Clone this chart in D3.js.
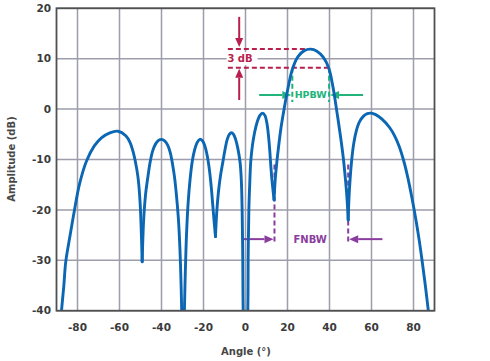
<!DOCTYPE html>
<html>
<head>
<meta charset="utf-8">
<script src="https://cdn.jsdelivr.net/npm/d3@7"></script>
<style>
body { margin: 0; background: #fff; }
text { font-family: "DejaVu Sans", sans-serif; font-weight: bold; }
</style>
</head>
<body>
<svg width="490" height="361"></svg>
<script>
// beam pattern: angle (deg) / amplitude (dB)
var angle = [
    -88.5, -87.6, -86.5, -85.6, -83.5, -81.6, -79, -75.7, -72, -68.6, -64.6, -60.7, -57, -55, -53.5, -52.5, -51.2, -50.2, -49.2,
    -48.5, -47.6, -46.5, -45.4, -44.2, -42.8, -41.4, -40, -38.5, -37, -35.8, -34.8, -33.8, -32.9, -32, -31.2, -30.6, -30.2, -29.7,
    -29.2, -28.7, -28.1, -27.3, -26.4, -25.4, -24.3, -23.1, -21.8, -20.5, -19.3, -18.2, -17.2, -16.3, -15.5, -14.9, -14.3,
    -13.7, -12.9, -11.9, -10.7, -9.7, -8.7, -7.7, -6.7, -5.7, -4.7, -3.7, -2.6, -2, -1.6, -1.3, -1.1, 0,
    1.1, 1.3, 1.6, 2, 2.5, 3.3, 4.4, 5.6, 6.8, 8.1, 9.3, 10.2, 11, 11.6, 12.1, 12.7, 13.6,
    14.1, 14.8, 15.8, 16.9, 18.2, 20, 22.4, 25, 28, 31, 34, 37, 39.6, 41.7, 43.5, 45.2, 46.6, 47.6, 48.3, 48.9,
    49.3, 49.8, 50.5, 51.4, 52.6, 54.2, 56.2, 58, 59.7, 62, 65, 68.7, 71, 73.2, 75.3, 77.3, 79.2, 81, 82.6, 84, 85.3, 86.5, 87.6, 88.6];
var ampDb = [
    -46, -40, -35, -30.3, -25, -20.4, -14.8, -10.3, -7.3, -5.7, -4.7, -4.4, -5.3, -6.6, -8.5, -10.3, -13.5, -18.5, -30.3,
    -22, -17, -13.5, -10.5, -8.3, -6.9, -6.2, -6, -6.3, -7.2, -8.7, -10.8, -13.5, -17, -21.5, -28, -36, -44, -55,
    -42, -33, -25, -18.5, -14, -10.5, -8.2, -6.7, -6, -6.3, -7.4, -9.3, -12, -15.5, -19.5, -22.5, -25.3,
    -20.5, -16.5, -13.2, -10.3, -7.9, -6, -5, -4.7, -5, -6, -7.7, -10.5, -14, -20, -30, -40, -55,
    -40, -28, -20, -15, -10.4, -7.2, -4.5, -2.5, -1.3, -0.8, -1.3, -2.8, -5.5, -8.5, -11.5, -14.5, -18,
    -14.3, -11, -7.3, -3.7, -0.4, 3.7, 8, 10.4, 11.6, 11.9, 11.5, 10.3, 8.2, 4.3, -0.5, -5.3, -9.8, -14, -17.5, -22,
    -17.5, -14, -10.4, -7.2, -4.6, -2.6, -1.4, -0.9, -0.8, -1.1, -2, -3.7, -5.3, -7.4, -10.2, -13.6, -17.5, -21.6, -25.7, -29.8, -33.9, -38, -42, -46];

var xTicks = [-80, -60, -40, -20, 0, 20, 40, 60, 80];
var yTicks = [-40, -30, -20, -10, 0, 10, 20];

// annotation levels (data units)
var halfPowerDb = [11.9, 8.2];     // the two dashed 3 dB lines
var hpbwAngles = [22.3, 39.8];
var fnbwAngles = [13.8, 48.9];

var svg = d3.select("svg");
var x = d3.scaleLinear().domain([-90, 90]).range([56.5, 434.5]);
var y = d3.scaleLinear().domain([-40, 20]).range([310.7, 8.3]);

var red = "#b81f4e", green = "#22b37b", purple = "#8a3d9e", blue = "#0b67b3";

// grid
svg.selectAll(".vgrid").data(xTicks).enter().append("line")
    .attr("x1", d => x(d)).attr("x2", d => x(d))
    .attr("y1", y(20)).attr("y2", y(-40))
    .attr("stroke", "#9d9dab").attr("stroke-width", 1.5);
svg.selectAll(".hgrid").data(yTicks).enter().append("line")
    .attr("x1", x(-90)).attr("x2", x(90))
    .attr("y1", d => y(d)).attr("y2", d => y(d))
    .attr("stroke", "#9d9dab").attr("stroke-width", 1.5);

// tick labels
svg.selectAll(".xl").data(xTicks).enter().append("text")
    .attr("x", d => x(d)).attr("y", 331)
    .attr("text-anchor", "middle")
    .attr("font-size", "10.5px").attr("fill", "#3b3b3b")
    .text(d => d);
svg.selectAll(".yl").data(yTicks).enter().append("text")
    .attr("x", 51).attr("y", d => y(d))
    .attr("dy", "0.36em")
    .attr("text-anchor", "end")
    .attr("font-size", "10.5px").attr("fill", "#3b3b3b")
    .text(d => d);

svg.append("text")
    .attr("x", 246).attr("y", 355)
    .attr("text-anchor", "middle")
    .attr("font-size", "10px").attr("fill", "#474747")
    .text("Angle (°)");
svg.append("text")
    .attr("transform", "translate(15,159) rotate(-90)")
    .attr("text-anchor", "middle")
    .attr("font-size", "10px").attr("fill", "#474747")
    .text("Amplitude (dB)");

function arrow(x1, y1, x2, y2, color) {
    var dx = x2 - x1, dy = y2 - y1, len = Math.sqrt(dx * dx + dy * dy);
    var ux = dx / len, uy = dy / len, hl = 9, hw = 4;
    svg.append("line")
        .attr("x1", x1).attr("y1", y1)
        .attr("x2", x2 - ux * hl).attr("y2", y2 - uy * hl)
        .attr("stroke", color).attr("stroke-width", 2);
    var bx = x2 - ux * hl, by = y2 - uy * hl;
    svg.append("path")
        .attr("d", "M" + x2 + "," + y2 + "L" + (bx - uy * hw) + "," + (by + ux * hw) +
            "L" + (bx + uy * hw) + "," + (by - ux * hw) + "Z")
        .attr("fill", color);
}

function dashed(x1, y1, x2, y2, color) {
    svg.append("line")
        .attr("x1", x1).attr("y1", y1).attr("x2", x2).attr("y2", y2)
        .attr("stroke", color).attr("stroke-width", 2)
        .attr("stroke-dasharray", "5,3");
}

// 3 dB marker
dashed(x(-8.4), y(halfPowerDb[0]), x(32), y(halfPowerDb[0]), red);
dashed(x(-8.4), y(halfPowerDb[1]), x(39.6), y(halfPowerDb[1]), red);
arrow(x(-3), y(18.3), x(-3), y(halfPowerDb[0]) - 2, red);
arrow(x(-3), y(1.8), x(-3), y(halfPowerDb[1]) + 1, red);
svg.append("rect")
    .attr("x", x(-9)).attr("y", y(10) - 6.5)
    .attr("width", 31).attr("height", 13)
    .attr("fill", "#fff");
svg.append("text")
    .attr("x", x(-2.6)).attr("y", y(10))
    .attr("dy", "0.36em").attr("text-anchor", "middle")
    .attr("font-size", "10px").attr("fill", red)
    .text("3 dB");

// HPBW
hpbwAngles.forEach(function (a) {
    dashed(x(a), y(halfPowerDb[1]), x(a), y(1.4), green);
});
arrow(x(6.5), y(2.8), x(hpbwAngles[0]) - 1, y(2.8), green);
arrow(x(56), y(2.8), x(hpbwAngles[1]) + 1, y(2.8), green);
svg.append("text")
    .attr("x", x((hpbwAngles[0] + hpbwAngles[1]) / 2)).attr("y", y(2.8))
    .attr("dy", "0.36em").attr("text-anchor", "middle")
    .attr("font-size", "9.5px").attr("fill", green)
    .text("HPBW");

// FNBW
fnbwAngles.forEach(function (a) {
    dashed(x(a), y(-11), x(a), y(-26.6), purple);
});
arrow(x(-1.9), y(-25.8), x(fnbwAngles[0]) - 1, y(-25.8), purple);
arrow(x(65.2), y(-25.8), x(fnbwAngles[1]) + 1, y(-25.8), purple);
svg.append("text")
    .attr("x", x(30.8)).attr("y", y(-25.8))
    .attr("dy", "0.36em").attr("text-anchor", "middle")
    .attr("font-size", "10px").attr("fill", purple)
    .text("FNBW");

// pattern: split at the nulls so each lobe meets the next in a sharp cusp
svg.append("clipPath").attr("id", "plot").append("rect")
    .attr("x", x(-90)).attr("y", y(20))
    .attr("width", x(90) - x(-90)).attr("height", y(-40) - y(20));

var pts = angle.map(function (a, i) { return [a, ampDb[i]]; });
var lobes = [], cur = [pts[0]];
for (var i = 1; i < pts.length; i++) {
    cur.push(pts[i]);
    if (i < pts.length - 1 && pts[i][1] < pts[i - 1][1] && pts[i][1] < pts[i + 1][1]) {
        lobes.push(cur);
        cur = [pts[i]];
    }
}
lobes.push(cur);

var line = d3.line()
    .x(d => x(d[0])).y(d => y(d[1]))
    .curve(d3.curveCatmullRom.alpha(0.5));

svg.append("g").attr("clip-path", "url(#plot)")
    .selectAll("path").data(lobes).enter().append("path")
    .attr("d", line)
    .attr("fill", "none")
    .attr("stroke", blue)
    .attr("stroke-width", 2.9)
    .attr("stroke-linejoin", "round")
    .attr("stroke-linecap", "round");

// frame
svg.append("rect")
    .attr("x", x(-90)).attr("y", y(20))
    .attr("width", x(90) - x(-90)).attr("height", y(-40) - y(20))
    .attr("fill", "none").attr("stroke", "#505050").attr("stroke-width", 1.8);
</script>
</body>
</html>
